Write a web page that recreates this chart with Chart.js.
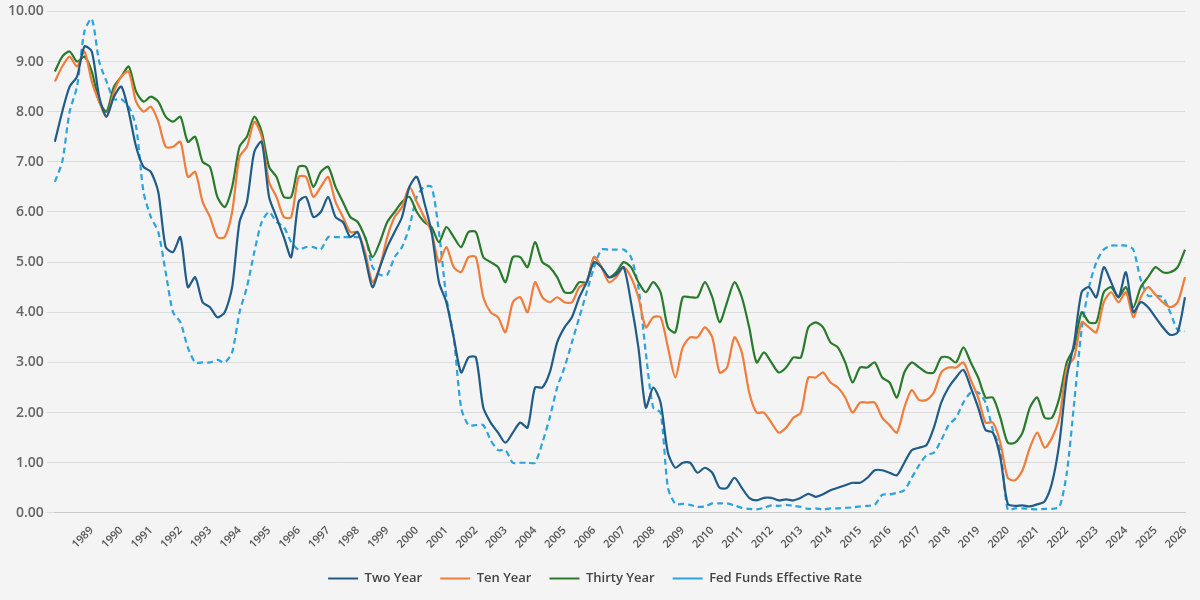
<!DOCTYPE html>
<html>
<head>
<meta charset="utf-8">
<script src="https://cdn.jsdelivr.net/npm/chart.js@4"></script>
<style>
  html, body { margin: 0; padding: 0; background: #f4f4f4; }
  #wrap { width: 1200px; height: 600px; }
</style>
</head>
<body>
<div id="wrap"><canvas id="rates"></canvas></div>
<script>
// quarterly values, 1988 Q1 .. 2026 Q2
const years = [];
for (let y = 1988; y <= 2026; y++) years.push(y);

const twoYear = [
  7.4, 8.0, 8.5, 8.7,  9.3, 9.2, 8.3, 7.9,  8.3, 8.5, 8.0, 7.3,  6.9, 6.8, 6.4, 5.3,
  5.2, 5.5, 4.5, 4.7,  4.2, 4.1, 3.9, 4.0,  4.5, 5.8, 6.2, 7.2,  7.4, 6.3, 5.9, 5.5,
  5.1, 6.2, 6.3, 5.9,  6.0, 6.3, 5.9, 5.8,  5.5, 5.6, 5.1, 4.5,  4.9, 5.3, 5.6, 5.9,
  6.5, 6.7, 6.2, 5.6,  4.6, 4.2, 3.5, 2.8,  3.1, 3.1, 2.1, 1.8,  1.6, 1.4, 1.6, 1.8,
  1.7, 2.5, 2.5, 2.8,  3.4, 3.7, 3.9, 4.3,  4.6, 5.0, 4.9, 4.7,  4.75, 4.9, 4.2, 3.3,
  2.1, 2.5, 2.2, 1.2,  0.9, 1.0, 1.0, 0.8,  0.9, 0.8, 0.5, 0.5,  0.7, 0.5, 0.3, 0.25,
  0.3, 0.3, 0.25, 0.27, 0.25, 0.3, 0.38, 0.32, 0.37, 0.45, 0.5, 0.55, 0.6, 0.6, 0.7, 0.85,
  0.85, 0.8, 0.75, 1.0, 1.25, 1.3, 1.35, 1.7, 2.2, 2.5, 2.7, 2.85, 2.5, 2.1, 1.65, 1.6,
  1.1, 0.18, 0.14, 0.15, 0.13, 0.17, 0.23, 0.6, 1.4, 2.7, 3.4, 4.4, 4.5, 4.3, 4.9, 4.6,
  4.3, 4.8, 4.0, 4.2,  4.1, 3.9, 3.7, 3.55, 3.6, 4.3
];
const tenYear = [
  8.6, 8.9, 9.1, 8.9,  9.2, 8.6, 8.2, 7.9,  8.4, 8.7, 8.8, 8.2,  8.0, 8.1, 7.8, 7.3,
  7.3, 7.4, 6.7, 6.8,  6.2, 5.9, 5.5, 5.5,  6.0, 7.1, 7.3, 7.8,  7.5, 6.6, 6.3, 5.9,
  5.9, 6.7, 6.7, 6.3,  6.5, 6.7, 6.2, 5.9,  5.6, 5.6, 5.2, 4.6,  4.9, 5.5, 5.9, 6.1,
  6.5, 6.2, 5.9, 5.6,  5.0, 5.3, 4.9, 4.8,  5.1, 5.1, 4.3, 4.0,  3.9, 3.6, 4.2, 4.3,
  4.0, 4.6, 4.3, 4.2,  4.3, 4.2, 4.2, 4.5,  4.6, 5.1, 4.9, 4.6,  4.7, 4.9, 4.7, 4.3,
  3.7, 3.9, 3.9, 3.3,  2.7, 3.3, 3.5, 3.5,  3.7, 3.5, 2.8, 2.9,  3.5, 3.2, 2.4, 2.0,
  2.0, 1.8, 1.6, 1.7,  1.9, 2.0, 2.7, 2.7,  2.8, 2.6, 2.5, 2.3,  2.0, 2.2, 2.2, 2.2,
  1.9, 1.75, 1.6, 2.1, 2.45, 2.25, 2.25, 2.4, 2.8, 2.9, 2.9, 3.0, 2.65, 2.3, 1.8, 1.8,
  1.4, 0.7, 0.65, 0.85, 1.3, 1.6, 1.3, 1.5, 1.9, 2.9, 3.1, 3.8, 3.7, 3.6, 4.2, 4.4,
  4.2, 4.4, 3.9, 4.3,  4.5, 4.35, 4.2, 4.1, 4.2, 4.7
];
const thirtyYear = [
  8.8, 9.1, 9.2, 9.0,  9.1, 8.8, 8.2, 8.0,  8.5, 8.7, 8.9, 8.4,  8.2, 8.3, 8.2, 7.9,
  7.8, 7.9, 7.4, 7.5,  7.0, 6.9, 6.3, 6.1,  6.5, 7.3, 7.5, 7.9,  7.6, 6.9, 6.7, 6.3,
  6.3, 6.9, 6.9, 6.5,  6.8, 6.9, 6.5, 6.2,  5.9, 5.8, 5.5, 5.1,  5.4, 5.8, 6.0, 6.2,
  6.3, 6.0, 5.8, 5.7,  5.4, 5.7, 5.5, 5.3,  5.6, 5.6, 5.1, 5.0,  4.9, 4.6, 5.1, 5.1,
  4.9, 5.4, 5.0, 4.9,  4.7, 4.4, 4.4, 4.6,  4.6, 5.1, 4.9, 4.7,  4.8, 5.0, 4.9, 4.6,
  4.4, 4.6, 4.4, 3.7,  3.6, 4.3, 4.3, 4.3,  4.6, 4.3, 3.8, 4.2,  4.6, 4.3, 3.7, 3.0,
  3.2, 3.0, 2.8, 2.9,  3.1, 3.1, 3.7, 3.8,  3.7, 3.4, 3.3, 3.0,  2.6, 2.9, 2.9, 3.0,
  2.7, 2.6, 2.3, 2.8,  3.0, 2.9, 2.8, 2.8,  3.1, 3.1, 3.0, 3.3,  3.0, 2.7, 2.3, 2.3,
  1.9, 1.4, 1.4, 1.6,  2.1, 2.3, 1.9, 1.9,  2.3, 3.0, 3.3, 4.0,  3.8, 3.8, 4.4, 4.5,
  4.3, 4.5, 4.1, 4.5,  4.7, 4.9, 4.8, 4.8,  4.9, 5.25
];
const fedFunds = [
  6.6, 7.0, 8.0, 8.5,  9.6, 9.85, 9.0, 8.6,  8.25, 8.25, 8.1, 7.7,  6.4, 5.9, 5.6, 4.8,
  4.0, 3.8, 3.3, 3.0,  3.0, 3.0, 3.05, 3.0,  3.2, 4.0, 4.5, 5.2,  5.8, 6.0, 5.8, 5.7,
  5.4, 5.25, 5.3, 5.3, 5.25, 5.5, 5.5, 5.5, 5.5, 5.5, 5.5, 4.9,  4.75, 4.75, 5.1, 5.3,
  5.7, 6.3, 6.5, 6.5,  5.6, 4.3, 3.5, 2.1,  1.75, 1.75, 1.75, 1.45, 1.25, 1.25, 1.0, 1.0,
  1.0, 1.0, 1.4, 1.9,  2.5, 2.9, 3.4, 3.9,  4.4, 4.9, 5.25, 5.25, 5.25, 5.25, 5.1, 4.5,
  3.2, 2.1, 2.0, 0.5,  0.18, 0.18, 0.16, 0.12, 0.13, 0.19, 0.19, 0.19, 0.15, 0.1, 0.08, 0.07,
  0.1, 0.15, 0.14, 0.16, 0.14, 0.12, 0.08, 0.09, 0.07, 0.09, 0.09, 0.1, 0.11, 0.13, 0.14, 0.16,
  0.36, 0.37, 0.4, 0.45, 0.7, 0.95, 1.15, 1.2, 1.45, 1.75, 1.9, 2.2, 2.4, 2.4, 2.2, 1.65,
  1.25, 0.06, 0.09, 0.09, 0.08, 0.07, 0.08, 0.08, 0.12, 0.8, 2.2, 3.65, 4.5, 5.0, 5.25, 5.33,
  5.33, 5.33, 5.25, 4.65, 4.33, 4.33, 4.3, 4.0, 3.65, 3.62
];

// year label on the second quarter of each year (no label for 1988)
const labels = [];
years.forEach((y) => {
  for (let q = 1; q <= 4; q++) labels.push(q === 2 && y > 1988 ? String(y) : '');
});
labels.length = twoYear.length;

const lineStyle = (label, data, color, dash) => ({
  label: label,
  data: data,
  borderColor: color,
  backgroundColor: color,
  borderWidth: 2.2,
  borderDash: dash || [],
  pointRadius: 0,
  tension: 0.25,
  fill: false,
});

new Chart(document.getElementById('rates'), {
  type: 'line',
  data: {
    labels: labels,
    datasets: [
      lineStyle('Two Year', twoYear, '#1f5c87'),
      lineStyle('Ten Year', tenYear, '#f07d3a'),
      lineStyle('Thirty Year', thirtyYear, '#2a7a2c'),
      lineStyle('Fed Funds Effective Rate', fedFunds, '#2ba3dc', [6, 4]),
    ],
  },
  options: {
    responsive: true,
    maintainAspectRatio: false,
    animation: false,
    layout: { padding: { left: 5, right: 15, top: 10, bottom: 5 } },
    plugins: {
      legend: {
        position: 'bottom',
        labels: {
          color: '#444',
          font: { family: "'Open Sans', sans-serif", size: 13, weight: '600' },
          boxWidth: 30,
          boxHeight: 0,
          padding: 18,
        },
      },
      tooltip: { enabled: false },
    },
    scales: {
      x: {
        grid: { display: false },
        border: { color: '#c8c8c8' },
        ticks: {
          autoSkip: false,
          maxRotation: 45,
          minRotation: 45,
          color: '#555',
          font: { family: "'Open Sans', sans-serif", size: 11, weight: '600' },
          callback: function (value, index) { return labels[index]; },
        },
      },
      y: {
        min: 0,
        max: 10,
        grid: { color: '#dcdcdc' },
        border: { display: false },
        ticks: {
          stepSize: 1,
          color: '#666',
          font: { family: "'Open Sans', sans-serif", size: 14, weight: '600' },
          callback: (v) => v.toFixed(2),
        },
      },
    },
  },
});
</script>
</body>
</html>
